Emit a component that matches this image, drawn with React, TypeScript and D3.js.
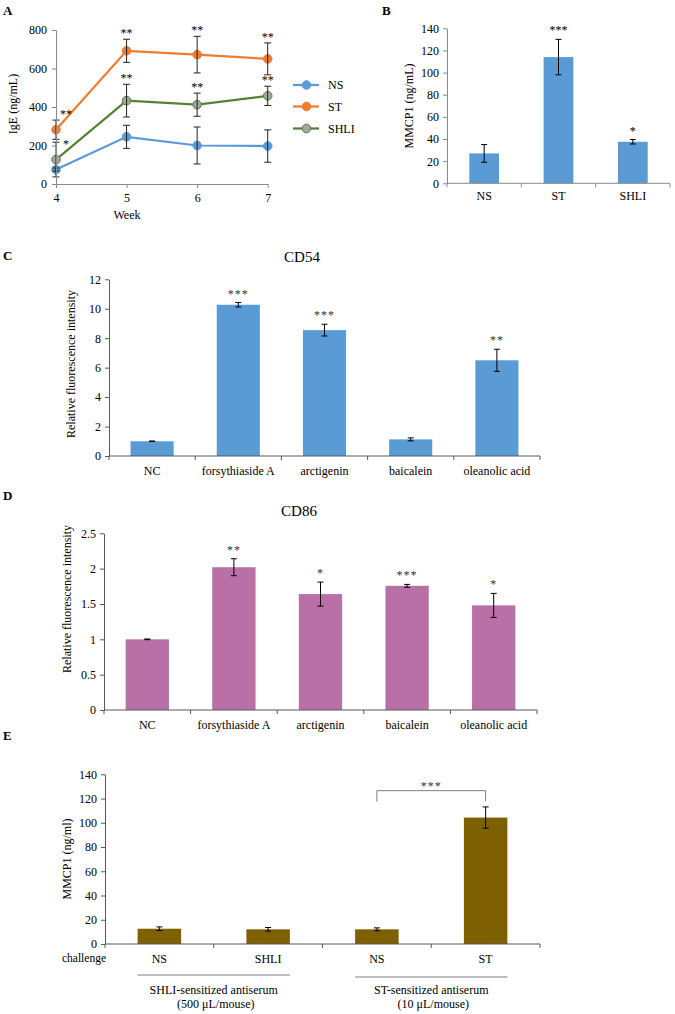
import React, { useEffect, useRef } from 'react';
import * as d3 from 'd3';

const FONT = '"Liberation Serif", "Times New Roman", Times, serif';

// Panel A: serum IgE per week
const weeks = [4, 5, 6, 7];
const igeTicks = [0, 200, 400, 600, 800];
const lineNames = ['NS', 'ST', 'SHLI'];
const nsIgE = [75, 245, 200, 197];
const nsIgEErr = [8, 60, 96, 84];
const stIgE = [282, 692, 672, 650];
const stIgEErr = [50, 60, 95, 83];
const shliIgE = [127, 433, 412, 458];
const shliIgEErr = [90, 85, 60, 50];
const stIgESig = ['**', '**', '**', '**'];
const shliIgESig = ['*', '**', '**', '**'];

// Panel B: MMCP1
const groupsB = ['NS', 'ST', 'SHLI'];
const mmcpB = [27, 114, 37.5];
const mmcpBErr = [8, 16, 2];
const mmcpBSig = ['', '***', '*'];
const mmcpBTicks = [0, 20, 40, 60, 80, 100, 120, 140];

// Panels C and D: compounds
const compounds = ['NC', 'forsythiaside A', 'arctigenin', 'baicalein', 'oleanolic acid'];
const cd54 = [1.0, 10.27, 8.55, 1.13, 6.5];
const cd54Err = [0.02, 0.15, 0.4, 0.1, 0.75];
const cd54Sig = ['', '***', '***', '', '**'];
const cd54Ticks = [0, 2, 4, 6, 8, 10, 12];
const cd86 = [1.0, 2.02, 1.64, 1.757, 1.48];
const cd86Err = [0.005, 0.12, 0.17, 0.02, 0.17];
const cd86Sig = ['', '**', '*', '***', '*'];
const cd86Ticks = [0, 0.5, 1, 1.5, 2, 2.5];

// Panel E: passive transfer
const challenges = ['NS', 'SHLI', 'NS', 'ST'];
const mmcpE = [12.6, 12.1, 12.1, 104.3];
const mmcpEErr = [1.5, 1.5, 1.2, 8.8];
const mmcpETicks = [0, 20, 40, 60, 80, 100, 120, 140];
const antiserumNames = ['SHLI-sensitized antiserum', 'ST-sensitized antiserum'];
const antiserumDoses = ['(500 μL/mouse)', '(10 μL/mouse)'];

function styleAxis(sel: any, color: string) {
  sel.attr('font-family', FONT).attr('font-size', 12);
  sel.select('.domain').attr('stroke', color);
  sel.selectAll('.tick line').attr('stroke', color);
  sel.selectAll('.tick text').attr('fill', '#000');
}

function label(g: any, txt: string, x: number, y: number, opts: any = {}) {
  return g.append('text')
    .attr('x', x).attr('y', y)
    .attr('font-family', FONT)
    .attr('font-size', opts.size || 12)
    .attr('font-weight', opts.bold ? 'bold' : 'normal')
    .attr('text-anchor', opts.anchor || 'start')
    .attr('fill', opts.fill || '#000')
    .text(txt);
}

function yLabel(g: any, txt: string, x: number, y: number) {
  g.append('text')
    .attr('transform', `translate(${x},${y}) rotate(-90)`)
    .attr('font-family', FONT).attr('font-size', 12)
    .attr('text-anchor', 'middle')
    .text(txt);
}

function errBar(g: any, x: number, y1: number, y2: number, half: number, color = '#000') {
  g.append('line').attr('x1', x).attr('x2', x).attr('y1', y1).attr('y2', y2).attr('stroke', color);
  [y1, y2].forEach((yy) => {
    g.append('line').attr('x1', x - half).attr('x2', x + half).attr('y1', yy).attr('y2', yy).attr('stroke', color);
  });
}

function barPanel(svg: any, o: any) {
  const g = svg.append('g');
  const x = d3.scaleBand<string>()
    .domain(o.cats.map((_: string, i: number) => String(i)))
    .range([o.left, o.right])
    .paddingInner(o.pad)
    .paddingOuter(o.pad / 2);
  const y = d3.scaleLinear().domain([0, o.max]).range([o.bottom, o.top]);
  const cx = (i: number) => (x(String(i)) as number) + x.bandwidth() / 2;

  g.selectAll('rect.bar')
    .data(o.values)
    .join('rect')
    .attr('class', 'bar')
    .attr('x', (_: number, i: number) => x(String(i)))
    .attr('y', (d: number) => y(d))
    .attr('width', x.bandwidth())
    .attr('height', (d: number) => y(0) - y(d))
    .attr('fill', o.color);

  o.values.forEach((v: number, i: number) => {
    errBar(g, cx(i), y(v + o.errs[i]), y(v - o.errs[i]), 3);
    if (o.sigs && o.sigs[i]) {
      label(g, o.sigs[i], cx(i), y(v + o.errs[i]) - 5, { anchor: 'middle', fill: o.sigColor || '#000' })
        .attr('letter-spacing', o.sigSpacing || 0);
    }
  });

  const ya = g.append('g')
    .attr('transform', `translate(${o.left},0)`)
    .call(d3.axisLeft(y).tickValues(o.ticks).tickSize(4).tickSizeOuter(0).tickPadding(4).tickFormat(d3.format('~g')));
  styleAxis(ya, o.axisColor);

  g.append('line')
    .attr('x1', o.left).attr('x2', o.right)
    .attr('y1', y(0)).attr('y2', y(0))
    .attr('stroke', o.axisColor);
  d3.range(o.cats.length + 1).forEach((i) => {
    const xx = o.left + i * x.step();
    g.append('line').attr('x1', xx).attr('x2', xx).attr('y1', y(0)).attr('y2', y(0) + 4).attr('stroke', o.axisColor);
  });
  o.cats.forEach((c: string, i: number) => {
    label(g, c, cx(i), o.labelY, { anchor: 'middle' });
  });

  return { g, x, y, cx };
}

function drawPanelA(svg: any) {
  const g = svg.append('g');
  const x = d3.scaleLinear().domain([4, 7]).range([56, 267.7]);
  const y = d3.scaleLinear().domain([0, 800]).range([184, 30]);

  const series = [
    { name: lineNames[0], vals: nsIgE, errs: nsIgEErr, sig: null, line: '#5B9BD5', fill: '#5B9BD5' },
    { name: lineNames[1], vals: stIgE, errs: stIgEErr, sig: stIgESig, line: '#ED7D31', fill: '#ED7D31' },
    { name: lineNames[2], vals: shliIgE, errs: shliIgEErr, sig: shliIgESig, line: '#548235', fill: '#A5A5A5' },
  ];

  const lineGen = d3.line<number>().x((_, i) => x(weeks[i])).y((d) => y(d));

  series.forEach((s) => {
    g.append('path').attr('d', lineGen(s.vals)).attr('fill', 'none').attr('stroke', s.line).attr('stroke-width', 2.25);
  });
  series.forEach((s) => {
    s.vals.forEach((v, i) => {
      g.append('circle').attr('cx', x(weeks[i])).attr('cy', y(v)).attr('r', 4.3)
        .attr('fill', s.fill).attr('stroke', s.line).attr('stroke-width', 1);
    });
  });
  series.forEach((s) => {
    s.vals.forEach((v, i) => {
      errBar(g, x(weeks[i]), y(v + s.errs[i]), y(v - s.errs[i]), 3.5, '#222');
      if (s.sig) {
        if (i === 0) label(g, s.sig[i], x(weeks[i]) + 10, y(v) - 12, { anchor: 'middle' });
        else label(g, s.sig[i], x(weeks[i]), y(v + s.errs[i]) - 2, { anchor: 'middle' });
      }
    });
  });

  const ya = g.append('g').attr('transform', `translate(${x(4)},0)`)
    .call(d3.axisLeft(y).tickValues(igeTicks).tickSize(4).tickSizeOuter(0).tickPadding(5));
  styleAxis(ya, '#8a8a8a');
  const xa = g.append('g').attr('transform', `translate(0,${y(0)})`)
    .call(d3.axisBottom(x).tickValues(weeks).tickFormat(d3.format('d')).tickSize(4).tickSizeOuter(0).tickPadding(5));
  styleAxis(xa, '#8a8a8a');
  ya.raise();

  label(g, 'Week', 127, 219, { anchor: 'middle' });
  yLabel(g, 'IgE (ng/mL)', 17, 104);
  label(g, 'A', 3, 15, { bold: true, size: 13 });

  // legend
  const legY = [85, 106.5, 128.5];
  series.forEach((s, i) => {
    g.append('line').attr('x1', 293).attr('x2', 319).attr('y1', legY[i]).attr('y2', legY[i])
      .attr('stroke', s.line).attr('stroke-width', 2.25);
    g.append('circle').attr('cx', 306.5).attr('cy', legY[i]).attr('r', 4.3)
      .attr('fill', s.fill).attr('stroke', s.line);
    label(g, s.name, 328, legY[i] + 4);
  });
}

function App() {
  const svgRef = useRef<SVGSVGElement>(null);

  useEffect(() => {
    const svg = d3.select(svgRef.current);
    svg.selectAll('*').remove();

    drawPanelA(svg);

    // B
    const b = barPanel(svg, {
      cats: groupsB, values: mmcpB, errs: mmcpBErr, sigs: mmcpBSig, ticks: mmcpBTicks,
      max: 140, left: 447, right: 670, top: 28.3, bottom: 183.3, pad: 0.6,
      color: '#5B9BD5', axisColor: '#8a8a8a', labelY: 200,
    });
    label(b.g, 'B', 382, 15, { bold: true, size: 13 });
    yLabel(b.g, 'MMCP1 (ng/mL)', 413, 106);

    // C
    const c = barPanel(svg, {
      cats: compounds, values: cd54, errs: cd54Err, sigs: cd54Sig, ticks: cd54Ticks,
      max: 12, left: 109, right: 540, top: 279.3, bottom: 456, pad: 0.5,
      color: '#5B9BD5', axisColor: '#595959', labelY: 475, sigColor: '#333', sigSpacing: 1,
    });
    label(c.g, 'C', 3, 260, { bold: true, size: 13 });
    label(c.g, 'CD54', 302, 261.5, { anchor: 'middle', size: 15 });
    yLabel(c.g, 'Relative fluorescence intensity', 75, 364);

    // D
    const d = barPanel(svg, {
      cats: compounds, values: cd86, errs: cd86Err, sigs: cd86Sig, ticks: cd86Ticks,
      max: 2.5, left: 104, right: 537, top: 533.3, bottom: 710, pad: 0.5,
      color: '#B970A7', axisColor: '#595959', labelY: 728.5, sigColor: '#333', sigSpacing: 1,
    });
    label(d.g, 'D', 3, 500, { bold: true, size: 13 });
    label(d.g, 'CD86', 299, 516, { anchor: 'middle', size: 15 });
    yLabel(d.g, 'Relative fluorescence intensity', 71, 599);

    // E
    const e = barPanel(svg, {
      cats: challenges, values: mmcpE, errs: mmcpEErr, sigs: null, ticks: mmcpETicks,
      max: 140, left: 105, right: 540, top: 774.3, bottom: 944, pad: 0.6,
      color: '#7F6000', axisColor: '#595959', labelY: 962.5,
    });
    label(e.g, 'E', 3, 740, { bold: true, size: 13 });
    yLabel(e.g, 'MMCP1 (ng/ml)', 71, 859);
    label(e.g, 'challenge', 106, 962, { anchor: 'end', size: 11.5 });

    // significance bracket between NS and ST (ST-sensitized)
    const bx1 = e.cx(2);
    const bx2 = e.cx(3);
    const by = e.y(126.5);
    e.g.append('path')
      .attr('d', `M${bx1},${e.y(117.5)}V${by}H${bx2}V${e.y(118)}`)
      .attr('fill', 'none').attr('stroke', '#7f7f7f');
    label(e.g, '***', (bx1 + bx2) / 2, e.y(131.5) + 5, { anchor: 'middle', fill: '#333' }).attr('letter-spacing', 1);

    // antiserum groups
    [[0, 1], [2, 3]].forEach((pair, k) => {
      const x1 = e.cx(pair[0]) - e.x.bandwidth() / 2;
      const x2 = e.cx(pair[1]) + e.x.bandwidth() / 2;
      const ly = 975 + k * 2;
      e.g.append('line').attr('x1', x1).attr('x2', x2).attr('y1', ly).attr('y2', ly)
        .attr('stroke', '#7f7f7f');
      const mid = (x1 + x2) / 2;
      label(e.g, antiserumNames[k], mid, 994, { anchor: 'middle' });
      label(e.g, antiserumDoses[k], mid + 2, 1008, { anchor: 'middle' });
    });
  }, []);

  return (
    <svg
      ref={svgRef}
      width={675}
      height={1014}
      style={{ position: 'absolute', left: 0, top: 0, background: '#fff' }}
    />
  );
}

export default App;
